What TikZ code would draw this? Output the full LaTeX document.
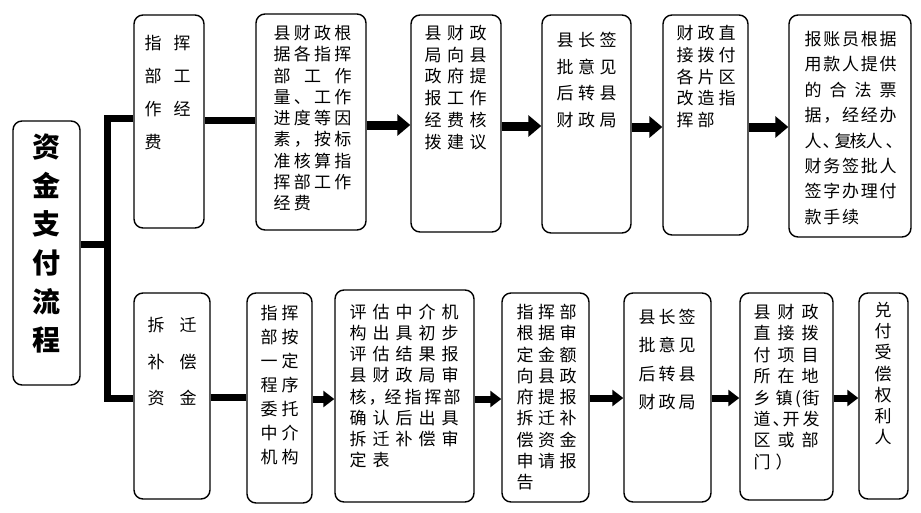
\documentclass[tikz,border=0pt]{standalone}
\usepackage{fontspec}
\setmainfont{Noto Sans CJK SC}
\usetikzlibrary{arrows.meta}
\tikzset{
  box/.style={draw, line width=1.4pt, rounded corners=9pt, inner sep=0pt, fill=white},
  txt/.style={inner sep=0pt, font=\fontsize{17}{17}\selectfont, text height=15pt, text depth=2pt},
  ttl/.style={inner sep=0pt, font=\fontsize{28}{28}\selectfont\bfseries, text height=24.6pt, text depth=3.4pt},
  bar/.style={line width=7pt},
  bigarr/.style={line width=9pt, -{Triangle[length=13pt,width=21pt]}},
  smallarr/.style={line width=7pt, -{Triangle[length=11pt,width=16pt]}},
}
\newcommand\cjkgrid[7]{%
  \foreach \rw [count=\r] in {#7}{%
    \foreach \ch [count=\k] in \rw{%
      \node[#1] (#2-\r-\k) at ({#3+(\k-1)*(#5)},{#4+(\r-1)*(#6)}) {\ch};
    }%
  }%
}
\newcommand\cjkrow[4]{%
  \foreach \ch/\xx [count=\k] in {#4}{%
    \node[#1] (#2-\k) at (\xx,#3) {\ch};
  }%
}
\begin{document}
\begin{tikzpicture}[x=1pt,y=-1pt]
\fill[white] (0,0) rectangle (921,512);
\useasboundingbox (0,0) rectangle (921,512);
% boxes
\node[box, minimum width=67pt, minimum height=264pt] (main) at (46.5,253) {};
\node[box, minimum width=70pt, minimum height=213pt] (t1) at (169,121.5) {};
\node[box, minimum width=110pt, minimum height=216pt] (t2) at (311,122) {};
\node[box, minimum width=90pt, minimum height=217pt] (t3) at (456,123.5) {};
\node[box, minimum width=89pt, minimum height=218pt] (t4) at (586.5,124) {};
\node[box, minimum width=85pt, minimum height=220pt] (t5) at (705.5,125) {};
\node[box, minimum width=122pt, minimum height=222pt] (t6) at (850,126) {};
\node[box, minimum width=76pt, minimum height=206pt] (b1) at (172,396) {};
\node[box, minimum width=65pt, minimum height=210pt] (b2) at (279.5,398) {};
\node[box, minimum width=139pt, minimum height=212pt] (b3) at (404.5,396) {};
\node[box, minimum width=87pt, minimum height=209pt] (b4) at (545.5,397.5) {};
\node[box, minimum width=87pt, minimum height=209pt] (b5) at (667.5,397.5) {};
\node[box, minimum width=93pt, minimum height=207pt] (b6) at (786.5,396.5) {};
\node[box, minimum width=49pt, minimum height=206pt] (b7) at (883.5,396) {};
% bracket
\coordinate (jt) at (107,118);
\coordinate (jm) at (107,244);
\coordinate (jb) at (107,398);
\draw[bar] (t1.west |- jt) -- (jt) -- (jb) -- (b1.west |- jb);
\draw[bar] (main.east |- jm) -- (jm);
% top row connectors
\draw[bar] (t1.east |- 0,120) -- (t2.west |- 0,120);
\draw[bigarr] (t2.east |- 0,125) -- (t3.west |- 0,125);
\draw[bigarr] (t3.east |- 0,126) -- (t4.west |- 0,126);
\draw[bigarr] (t4.east |- 0,127) -- (t5.west |- 0,127);
\draw[bigarr] (t5.east |- 0,127) -- (t6.west |- 0,127);
% bottom row connectors
\draw[bar] (b1.east |- 0,397) -- (b2.west |- 0,397);
\draw[smallarr] (b2.east |- 0,399) -- (b3.west |- 0,399);
\draw[smallarr] (b3.east |- 0,399) -- (b4.west |- 0,399);
\draw[smallarr] (b4.east |- 0,398) -- (b5.west |- 0,398);
\draw[smallarr] (b5.east |- 0,398) -- (b6.west |- 0,398);
\draw[smallarr] (b6.east |- 0,398) -- (b7.west |- 0,398);
% texts
\cjkgrid{ttl}{m}{46.5}{147}{0}{38.6}{{资},{金},{支},{付},{流},{程}}
\cjkgrid{txt}{t1c}{153}{43}{29}{33}{{指,挥},{部,工},{作,经},{费}}
\cjkgrid{txt}{t2a}{282}{33}{20.3}{21.25}{{县,财,政,根},{据,各,指,挥}}
\cjkrow{txt}{t2b}{75.5}{部/282,工/312.5,作/343}
\cjkgrid{txt}{t2c}{282}{96.75}{20.3}{21.25}{{量,、,工,作},{进,度,等,因},{素,，,按,标},{准,核,算,指},{挥,部,工,作},{经,费}}
\cjkgrid{txt}{t3c}{433}{33}{22.5}{21.7}{{县,财,政},{局,向,县},{政,府,提},{报,工,作},{经,费,核},{拨,建,议}}
\cjkgrid{txt}{t4c}{565}{40}{21.5}{26.7}{{县,长,签},{批,意,见},{后,转,县},{财,政,局}}
\cjkgrid{txt}{t5c}{685}{33}{21}{21.8}{{财,政,直},{接,拨,付},{各,片,区},{改,造,指},{挥,部}}
\cjkgrid{txt}{t6a}{813}{39}{18.75}{25.4}{{报,账,员,根,据},{用,款,人,提,供}}
\cjkrow{txt}{t6b}{89.8}{的/813,合/838,法/863,票/888}
\cjkgrid{txt}{t6c}{813}{115.2}{18.75}{25.4}{{据,，,经,经,办}}
\cjkrow{txt}{t6d}{140.6}{人/813,、/831,复/843,核/858,人/874,、/894}
\cjkgrid{txt}{t6e}{813}{166}{18.75}{25.4}{{财,务,签,批,人},{签,字,办,理,付},{款,手,续}}
\cjkgrid{txt}{b1c}{156}{325}{32}{36.5}{{拆,迁},{补,偿},{资,金}}
\cjkgrid{txt}{b2c}{269}{313}{21}{24}{{指,挥},{部,按},{一,定},{程,序},{委,托},{中,介},{机,构}}
\cjkgrid{txt}{b3a}{358}{312}{23}{21.14}{{评,估,中,介,机},{构,出,具,初,步},{评,估,结,果,报},{县,财,政,局,审}}
\cjkrow{txt}{b3b}{396.6}{核/358,，/377,经/393,指/413,挥/433,部/452}
\cjkgrid{txt}{b3c}{358}{417.7}{23}{21.14}{{确,认,后,出,具},{拆,迁,补,偿,审},{定,表}}
\cjkgrid{txt}{b4c}{525}{312}{21.5}{21.25}{{指,挥,部},{根,据,审},{定,金,额},{向,县,政},{府,提,报},{拆,迁,补},{偿,资,金},{申,请,报},{告}}
\cjkgrid{txt}{b5c}{647}{317}{20}{28.3}{{县,长,签},{批,意,见},{后,转,县},{财,政,局}}
\cjkgrid{txt}{b6a}{762}{312}{24}{21.4}{{县,财,政},{直,接,拨},{付,项,目},{所,在,地}}
\cjkrow{txt}{b6b}{397.6}{乡/762,镇/784,{(}/798,街/811}
\cjkrow{txt}{b6c}{419}{道/762,、/781,开/791,发/811}
\cjkgrid{txt}{b6d}{762}{440.4}{24}{21.4}{{区,或,部}}
\cjkrow{txt}{b6e}{461.8}{门/762,）/784}
\cjkgrid{txt}{b7c}{883}{310}{0}{21.2}{{兑},{付},{受},{偿},{权},{利},{人}}
\end{tikzpicture}
\end{document}
